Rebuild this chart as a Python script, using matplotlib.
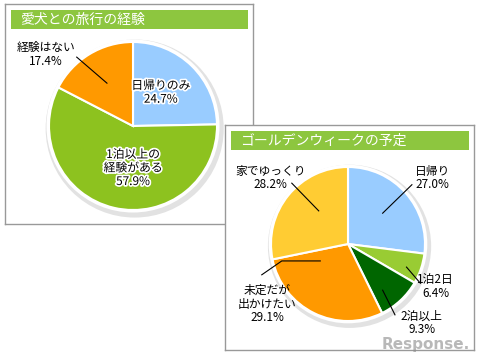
import matplotlib.pyplot as plt
import matplotlib.patheffects as pe
import numpy as np
from matplotlib.patches import Circle, Rectangle

plt.switch_backend('Agg')
plt.rcParams['font.family'] = ['Noto Sans CJK JP', 'DejaVu Sans']

W, H = 480, 360
BAR_GREEN = '#8DC63F'
BORDER = '#999999'

# 愛犬との旅行の経験
trip_labels = ['日帰りのみ', '1泊以上の\n経験がある', '経験はない']
trip_values = [24.7, 57.9, 17.4]
trip_colors = ['#99CCFF', '#8DC21F', '#FF9900']

# ゴールデンウィークの予定
gw_labels = ['日帰り', '1泊2日', '2泊以上', '未定だが\n出かけたい', '家でゆっくり']
gw_values = [27.0, 6.4, 9.3, 29.1, 28.2]
gw_colors = ['#99CCFF', '#99CC33', '#006600', '#FF9900', '#FFCC33']


def add_panel(fig, box, title, z):
    x0, y0, x1, y1 = box
    ax = fig.add_axes([x0 / W, 1 - y1 / H, (x1 - x0) / W, (y1 - y0) / H], zorder=z)
    ax.set_xlim(x0, x1)
    ax.set_ylim(y1, y0)
    ax.set_xticks([])
    ax.set_yticks([])
    for s in ax.spines.values():
        s.set_color(BORDER)
        s.set_linewidth(1)
    ax.add_patch(Rectangle((x0 + 6, y0 + 6), x1 - x0 - 11, 19, color=BAR_GREEN, lw=0))
    ax.text(x0 + 15, y0 + 15.5, title, color='white', fontsize=10, va='center')
    return ax


def add_pie(fig, cx, cy, r, values, colors, z):
    m = 1.3
    ax = fig.add_axes([(cx - m * r) / W, 1 - (cy + m * r) / H, 2 * m * r / W, 2 * m * r / H], zorder=z)
    ax.add_patch(Circle((0.02, -0.03), 1.06, color='#e2e2e2', lw=0, zorder=0))
    ax.add_patch(Circle((0, 0), 1.03, color='white', lw=0, zorder=0.5))
    wedges, _ = ax.pie(values, colors=colors, startangle=90, counterclock=False,
                       wedgeprops=dict(edgecolor='white', linewidth=1.5))
    ax.set_xlim(-m, m)
    ax.set_ylim(-m, m)
    ax.set_aspect('equal')
    ax.axis('off')
    return ax, wedges


def label(ax, text, value, xy, halo=False):
    t = ax.text(xy[0], xy[1], f'{text}\n{value:.1f}%', ha='center', va='center',
                fontsize=8.5, linespacing=1.05, zorder=5)
    if halo:
        t.set_path_effects([pe.withStroke(linewidth=2.5, foreground='white')])


def leader(ax, pts):
    pts = np.array(pts)
    ax.plot(pts[:, 0], pts[:, 1], color='black', lw=0.8, zorder=4)


fig = plt.figure(figsize=(4.8, 3.6), dpi=100)

add_panel(fig, (5, 4, 253, 224), '愛犬との旅行の経験', 0)
ax1, w1 = add_pie(fig, 133, 126, 84, trip_values, trip_colors, 1)
label(ax1, trip_labels[0], trip_values[0], (0.33, 0.40), halo=True)
label(ax1, trip_labels[1], trip_values[1], (0.0, -0.50), halo=True)
label(ax1, trip_labels[2], trip_values[2], (-1.04, 0.85))
leader(ax1, [(-0.67, 0.82), (-0.31, 0.51)])

add_panel(fig, (225, 125, 474, 350), 'ゴールデンウィークの予定', 2)
ax2, w2 = add_pie(fig, 348, 244, 77, gw_values, gw_colors, 3)
label(ax2, gw_labels[0], gw_values[0], (1.10, 0.86))
leader(ax2, [(0.83, 0.77), (0.45, 0.40)])
label(ax2, gw_labels[1], gw_values[1], (1.14, -0.55))
leader(ax2, [(0.94, -0.51), (0.76, -0.30)])
label(ax2, gw_labels[2], gw_values[2], (0.96, -1.02))
leader(ax2, [(0.61, -0.92), (0.45, -0.60)])
label(ax2, gw_labels[3], gw_values[3], (-1.05, -0.78))
leader(ax2, [(-1.12, -0.40), (-0.86, -0.22), (-0.36, -0.22)])
label(ax2, gw_labels[4], gw_values[4], (-1.01, 0.86))
leader(ax2, [(-0.73, 0.79), (-0.38, 0.43)])

fig.text(470 / W, 1 - 345 / H, 'Response.', ha='right', va='center', fontsize=11,
         fontweight='bold', color='#8a8a8a', alpha=0.6, family='DejaVu Sans', zorder=10)

fig.savefig('out.png', dpi=100)
